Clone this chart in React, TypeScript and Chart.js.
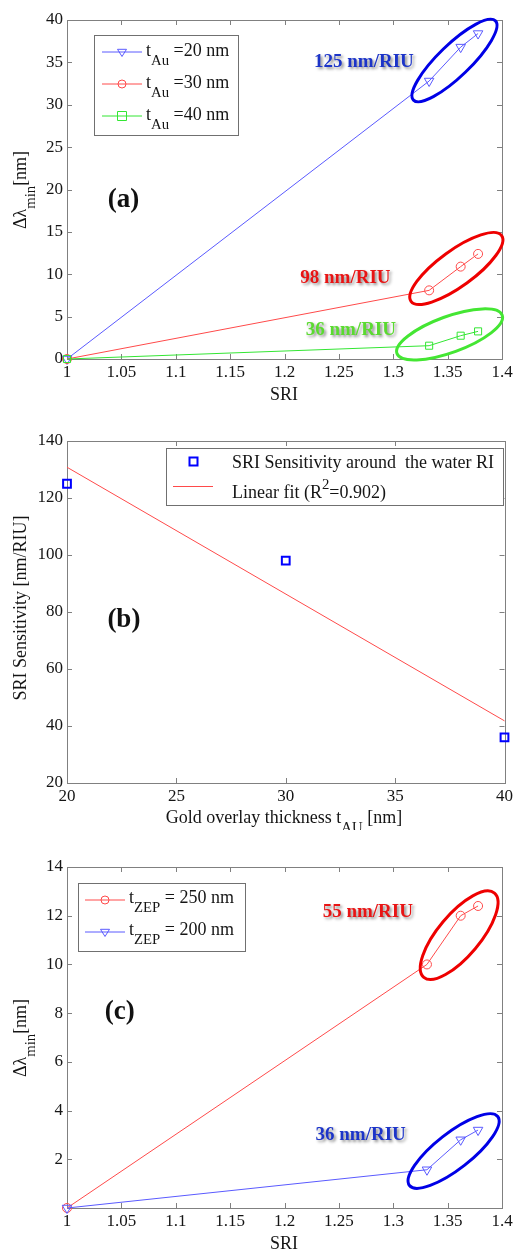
import React, { useEffect, useRef } from "react";
import { Chart, registerables } from "chart.js";

Chart.register(...registerables);

const SERIF = '"Liberation Serif", "Times New Roman", Times, serif';

// ---------- Panel (a) data ----------
const SRI_A = [1, 1.333, 1.362, 1.378];
const SHIFT_AU20 = [0, 32.8, 36.8, 38.4];
const SHIFT_AU30 = [0, 8.1, 10.9, 12.4];
const SHIFT_AU40 = [0, 1.57, 2.75, 3.26];
const SRI_TICKS = [1, 1.05, 1.1, 1.15, 1.2, 1.25, 1.3, 1.35, 1.4];
const A_Y_TICKS = [0, 5, 10, 15, 20, 25, 30, 35, 40];

// ---------- Panel (b) data ----------
const GOLD_THICKNESS = [20, 30, 40];
const SRI_SENSITIVITY = [125, 98, 36];
const FIT_THICKNESS = [20, 40];
const FIT_SENSITIVITY = [130.8, 41.8];
const B_X_TICKS = [20, 25, 30, 35, 40];
const B_Y_TICKS = [20, 40, 60, 80, 100, 120, 140];

// ---------- Panel (c) data ----------
const SRI_C = [1, 1.331, 1.362, 1.378];
const SHIFT_ZEP250 = [0, 10.0, 12.0, 12.4];
const SHIFT_ZEP200 = [0, 1.57, 2.8, 3.2];
const C_Y_TICKS = [2, 4, 6, 8, 10, 12, 14];

// ---------- colours ----------
const BLUE_LINE = "#5a5aff";
const RED_LINE = "#ff4a4a";
const GREEN_LINE = "#33e633";
const FRAME = "#808080";
const TEXT = "#151515";

type Seg = { t: string; sub?: boolean; sup?: boolean };

function drawRich(
  ctx: CanvasRenderingContext2D,
  segs: Seg[],
  x: number,
  y: number,
  size: number,
  align: "left" | "center",
  color = TEXT
) {
  const small = size * 0.82;
  const widths = segs.map((s) => {
    ctx.font = `${s.sub || s.sup ? small : size}px ${SERIF}`;
    return ctx.measureText(s.t).width;
  });
  const total = widths.reduce((a, b) => a + b, 0);
  let cx = align === "center" ? x - total / 2 : x;
  ctx.fillStyle = color;
  ctx.textAlign = "left";
  ctx.textBaseline = "middle";
  segs.forEach((s, i) => {
    ctx.font = `${s.sub || s.sup ? small : size}px ${SERIF}`;
    const dy = s.sub ? size * 0.55 : s.sup ? -size * 0.42 : 0;
    ctx.fillText(s.t, cx, y + dy);
    cx += widths[i];
  });
}

function drawMarker(
  ctx: CanvasRenderingContext2D,
  style: string,
  x: number,
  y: number,
  r: number,
  color: string,
  lw = 1
) {
  ctx.save();
  ctx.strokeStyle = color;
  ctx.lineWidth = lw;
  ctx.beginPath();
  if (style === "circle") {
    ctx.arc(x, y, r, 0, Math.PI * 2);
  } else if (style === "triDown") {
    ctx.moveTo(x - r, y - r * 0.6);
    ctx.lineTo(x + r, y - r * 0.6);
    ctx.lineTo(x, y + r);
    ctx.closePath();
  } else {
    ctx.rect(x - r, y - r, r * 2, r * 2);
  }
  ctx.stroke();
  ctx.restore();
}

function drawFrame(chart: any) {
  const { ctx, chartArea } = chart;
  const { left, right, top, bottom } = chartArea;
  const xs = chart.scales.x;
  const ys = chart.scales.y;
  ctx.save();
  ctx.strokeStyle = FRAME;
  ctx.lineWidth = 1;
  ctx.strokeRect(Math.round(left) + 0.5, Math.round(top) + 0.5, Math.round(right - left), Math.round(bottom - top));
  ctx.beginPath();
  const tl = 5;
  xs.ticks.forEach((t: any) => {
    const px = Math.round(xs.getPixelForValue(t.value)) + 0.5;
    ctx.moveTo(px, bottom);
    ctx.lineTo(px, bottom - tl);
    ctx.moveTo(px, top);
    ctx.lineTo(px, top + tl);
  });
  ys.ticks.forEach((t: any) => {
    const py = Math.round(ys.getPixelForValue(t.value)) + 0.5;
    ctx.moveTo(left, py);
    ctx.lineTo(left + tl, py);
    ctx.moveTo(right, py);
    ctx.lineTo(right - tl, py);
  });
  ctx.stroke();
  ctx.restore();
}

type Ell = { x: number; y: number; a: number; b: number; angle: number; color: string };
function drawEllipse(chart: any, e: Ell) {
  const { ctx } = chart;
  const cx = chart.scales.x.getPixelForValue(e.x);
  const cy = chart.scales.y.getPixelForValue(e.y);
  ctx.save();
  ctx.strokeStyle = e.color;
  ctx.lineWidth = 3;
  ctx.beginPath();
  ctx.ellipse(cx, cy, e.a, e.b, (-e.angle * Math.PI) / 180, 0, Math.PI * 2);
  ctx.stroke();
  ctx.restore();
}

type Note = { t: string; x: number; y: number; color: string; size: number; shadow?: boolean };
function drawNote(chart: any, n: Note) {
  const { ctx } = chart;
  ctx.save();
  ctx.font = `bold ${n.size}px ${SERIF}`;
  ctx.textAlign = "center";
  ctx.textBaseline = "middle";
  if (n.shadow) {
    ctx.shadowColor = "rgba(0,0,0,0.45)";
    ctx.shadowBlur = 3;
    ctx.shadowOffsetX = 2;
    ctx.shadowOffsetY = 2;
  }
  ctx.fillStyle = n.color;
  ctx.fillText(n.t, chart.scales.x.getPixelForValue(n.x), chart.scales.y.getPixelForValue(n.y));
  ctx.restore();
}

function drawYTitle(chart: any, segs: Seg[], x: number, y: number, size: number) {
  const { ctx } = chart;
  ctx.save();
  ctx.translate(x, y);
  ctx.rotate(-Math.PI / 2);
  drawRich(ctx, segs, 0, 0, size, "center");
  ctx.restore();
}

function legendBox(ctx: CanvasRenderingContext2D, x: number, y: number, w: number, h: number) {
  ctx.save();
  ctx.fillStyle = "#ffffff";
  ctx.fillRect(x, y, w, h);
  ctx.strokeStyle = "#707070";
  ctx.lineWidth = 1;
  ctx.strokeRect(Math.round(x) + 0.5, Math.round(y) + 0.5, Math.round(w), Math.round(h));
  ctx.restore();
}

function sampleLine(ctx: CanvasRenderingContext2D, x1: number, x2: number, y: number, color: string) {
  ctx.save();
  ctx.strokeStyle = color;
  ctx.lineWidth = 1;
  ctx.beginPath();
  ctx.moveTo(x1, y);
  ctx.lineTo(x2, y);
  ctx.stroke();
  ctx.restore();
}

function axis(min: number, max: number, ticks: number[], fit: number, horizontal: boolean, pad: number) {
  return {
    type: "linear",
    min,
    max,
    grid: { display: false, drawTicks: false },
    border: { display: false },
    ticks: {
      font: { family: SERIF, size: 17 },
      color: TEXT,
      padding: pad,
      maxRotation: 0,
      autoSkip: false,
      callback: (v: any) => String(v),
    },
    afterBuildTicks: (s: any) => {
      s.ticks = ticks.map((v) => ({ value: v }));
    },
    afterFit: (s: any) => {
      if (horizontal) s.height = fit;
      else s.width = fit;
    },
  };
}

function lineSet(xs: number[], ys: number[], color: string, style: string, rotation = 0, radius = 5) {
  return {
    data: xs.map((x, i) => ({ x, y: ys[i] })),
    showLine: true,
    borderColor: color,
    borderWidth: 1,
    pointStyle: style,
    rotation,
    pointRadius: radius,
    pointBorderColor: color,
    pointBackgroundColor: "rgba(0,0,0,0)",
    pointBorderWidth: 1,
    clip: false,
  };
}

function baseOptions(padTop: number, padRight: number, xAxis: any, yAxis: any) {
  return {
    responsive: false,
    devicePixelRatio: 1,
    animation: false,
    events: [],
    layout: { padding: { top: padTop, right: padRight, left: 0, bottom: 0 } },
    scales: { x: xAxis, y: yAxis },
    plugins: { legend: { display: false }, tooltip: { enabled: false } },
  };
}

const framePlugin = { id: "matlabFrame", beforeDatasetsDraw: (c: any) => drawFrame(c) };

function configA() {
  return {
    type: "scatter",
    data: {
      datasets: [
        { ...lineSet(SRI_A, SHIFT_AU40, GREEN_LINE, "rect", 0, 5), order: 1 },
        { ...lineSet(SRI_A, SHIFT_AU30, RED_LINE, "circle", 0, 4.5), order: 2 },
        { ...lineSet(SRI_A, SHIFT_AU20, BLUE_LINE, "triangle", 180, 5.5), order: 3 },
      ],
    },
    options: baseOptions(20, 14, axis(1, 1.4, SRI_TICKS, 51, true, 3), axis(0, 40, A_Y_TICKS, 67, false, 4)),
    plugins: [
      framePlugin,
      {
        id: "decorA",
        afterDraw: (chart: any) => {
          const ctx = chart.ctx;
          [
            { x: 1.3563, y: 35.22, a: 57, b: 16, angle: 44, color: "#0000e6" },
            { x: 1.358, y: 10.68, a: 56, b: 18, angle: 36, color: "#ee0000" },
            { x: 1.3518, y: 2.9, a: 56, b: 18, angle: 20, color: "#44e633" },
          ].forEach((e) => drawEllipse(chart, e));
          [
            { t: "125 nm/RIU", x: 1.273, y: 35.0, color: "#1c34c8", size: 19, shadow: true },
            { t: "98 nm/RIU", x: 1.256, y: 9.6, color: "#e81414", size: 19, shadow: true },
            { t: "36 nm/RIU", x: 1.261, y: 3.45, color: "#5ada30", size: 19, shadow: true },
            { t: "(a)", x: 1.052, y: 18.8, color: "#111111", size: 27 },
          ].forEach((n) => drawNote(chart, n));
          // legend
          legendBox(ctx, 93.5, 35, 144, 100);
          const rows = [
            { y: 52, color: BLUE_LINE, m: "triDown", txt: "=20 nm" },
            { y: 84, color: RED_LINE, m: "circle", txt: "=30 nm" },
            { y: 116, color: GREEN_LINE, m: "square", txt: "=40 nm" },
          ];
          rows.forEach((r) => {
            sampleLine(ctx, 102, 142, r.y, r.color);
            drawMarker(ctx, r.m, 122, r.y, r.m === "circle" ? 4 : 4.5, r.color);
            drawRich(ctx, [{ t: "t" }, { t: "Au", sub: true }, { t: " " + r.txt }], 146, r.y - 1, 18, "left");
          });
          // axis titles
          drawRich(ctx, [{ t: "SRI" }], 284, 395, 18, "center");
          drawYTitle(chart, [{ t: "Δλ" }, { t: "min", sub: true }, { t: "[nm]" }], 21, 190, 18);
        },
      },
    ],
  };
}

function configB() {
  return {
    type: "scatter",
    data: {
      datasets: [
        {
          data: GOLD_THICKNESS.map((x, i) => ({ x, y: SRI_SENSITIVITY[i] })),
          showLine: false,
          pointStyle: "rect",
          pointRadius: 5.5,
          pointBorderColor: "#0000ff",
          pointBackgroundColor: "rgba(0,0,0,0)",
          pointBorderWidth: 2,
          clip: false,
        },
        {
          data: FIT_THICKNESS.map((x, i) => ({ x, y: FIT_SENSITIVITY[i] })),
          showLine: true,
          borderColor: RED_LINE,
          borderWidth: 1,
          pointRadius: 0,
          clip: false,
        },
      ],
    },
    options: baseOptions(21, 11, axis(20, 40, B_X_TICKS, 47, true, 3), axis(20, 140, B_Y_TICKS, 67, false, 4)),
    plugins: [
      framePlugin,
      {
        id: "decorB",
        afterDraw: (chart: any) => {
          const ctx = chart.ctx;
          drawNote(chart, { t: "(b)", x: 22.6, y: 77.2, color: "#111111", size: 27 });
          legendBox(ctx, 166, 27.5, 337, 57);
          drawMarker(ctx, "square", 193.5, 41.5, 4, "#0000ff", 2);
          drawRich(ctx, [{ t: "SRI Sensitivity around  the water RI" }], 232, 43, 18, "left");
          sampleLine(ctx, 173, 213, 66.5, RED_LINE);
          drawRich(ctx, [{ t: "Linear fit (R" }, { t: "2", sup: true }, { t: "=0.902)" }], 232, 73, 18, "left");
          drawRich(
            ctx,
            [{ t: "Gold overlay thickness t" }, { t: "AU", sub: true }, { t: " [nm]" }],
            284,
            398,
            18,
            "center"
          );
          drawYTitle(chart, [{ t: "SRI Sensitivity [nm/RIU]" }], 21, 188, 18);
        },
      },
    ],
  };
}

function configC() {
  return {
    type: "scatter",
    data: {
      datasets: [
        { ...lineSet(SRI_C, SHIFT_ZEP200, BLUE_LINE, "triangle", 180, 5.5), order: 1 },
        { ...lineSet(SRI_C, SHIFT_ZEP250, RED_LINE, "circle", 0, 4.5), order: 2 },
      ],
    },
    options: baseOptions(37, 14, axis(1, 1.4, SRI_TICKS, 42, true, 3), axis(0, 14, C_Y_TICKS, 67, false, 4)),
    plugins: [
      framePlugin,
      {
        id: "decorC",
        afterDraw: (chart: any) => {
          const ctx = chart.ctx;
          [
            { x: 1.3606, y: 11.2, a: 55, b: 21, angle: 50, color: "#ee0000" },
            { x: 1.3555, y: 2.34, a: 56, b: 18, angle: 38, color: "#0000e6" },
          ].forEach((e) => drawEllipse(chart, e));
          [
            { t: "55 nm/RIU", x: 1.2766, y: 12.14, color: "#e81414", size: 19, shadow: true },
            { t: "36 nm/RIU", x: 1.27, y: 3.0, color: "#1c34c8", size: 19, shadow: true },
            { t: "(c)", x: 1.0486, y: 8.05, color: "#111111", size: 27 },
          ].forEach((n) => drawNote(chart, n));
          legendBox(ctx, 77.5, 52.5, 166.5, 67.5);
          const rows = [
            { y: 69, color: RED_LINE, m: "circle", txt: "= 250 nm" },
            { y: 101, color: BLUE_LINE, m: "triDown", txt: "= 200 nm" },
          ];
          rows.forEach((r) => {
            sampleLine(ctx, 85, 125, r.y + 1, r.color);
            drawMarker(ctx, r.m, 105, r.y + 1, r.m === "circle" ? 4 : 4.5, r.color);
            drawRich(ctx, [{ t: "t" }, { t: "ZEP", sub: true }, { t: " " + r.txt }], 129, r.y - 1, 18, "left");
          });
          drawRich(ctx, [{ t: "SRI" }], 284, 414, 18, "center");
          drawYTitle(chart, [{ t: "Δλ" }, { t: "min", sub: true }, { t: "[nm]" }], 21, 208, 18);
        },
      },
    ],
  };
}

function Panel({ top, height, make }: { top: number; height: number; make: () => any }) {
  const ref = useRef<HTMLCanvasElement>(null);
  useEffect(() => {
    const chart = new Chart(ref.current as HTMLCanvasElement, make());
    return () => chart.destroy();
  }, []);
  return (
    <div style={{ position: "absolute", left: 0, top, width: 516, height }}>
      <canvas ref={ref} width={516} height={height} style={{ width: 516, height, display: "block" }} />
    </div>
  );
}

export default function App() {
  return (
    <div style={{ position: "absolute", left: 0, top: 0, width: 516, height: 1250, background: "#ffffff" }}>
      <Panel top={0} height={410} make={configA} />
      <Panel top={420} height={410} make={configB} />
      <Panel top={830} height={420} make={configC} />
    </div>
  );
}
